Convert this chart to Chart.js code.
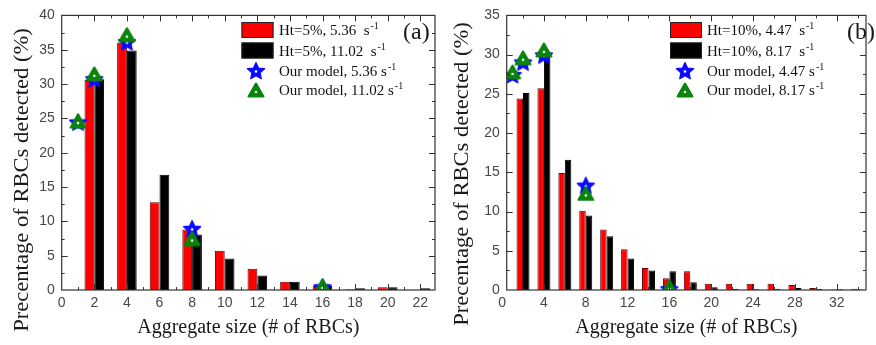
<!DOCTYPE html>
<html>
<head>
<meta charset="utf-8">
<script src="https://cdn.jsdelivr.net/npm/chart.js@4/dist/chart.umd.min.js"></script>
<style>
  html, body { margin: 0; padding: 0; background: #fff; overflow: hidden; }
  #wrapA { position: absolute; left: 0; top: 0; width: 445px; height: 345px; }
  #wrapB { position: absolute; left: 445px; top: 0; width: 431px; height: 345px; }
</style>
</head>
<body>
<div id="wrapA"><canvas id="chartA"></canvas></div>
<div id="wrapB"><canvas id="chartB"></canvas></div>
<script>
// ---------------- DATA ----------------
// Panel (a): Ht = 5%
const sizesA = [2, 4, 6, 8, 10, 12, 14, 16, 18, 20, 22];
const expA_536 = [30.6, 36.0, 12.8, 8.8, 5.7, 3.1, 1.2, 0.6, 0.1, 0.4, 0.05];
const expA_1102 = [30.7, 34.9, 16.8, 8.1, 4.6, 2.1, 1.2, 0.6, 0.25, 0.4, 0.25];
const modelSizesA = [1, 2, 4, 8, 16];
const modelA_536 = [24.4, 30.7, 36.1, 8.9, 0.4];
const modelA_1102 = [24.6, 31.5, 37.2, 7.5, 0.6];
const xTicksA = [0, 2, 4, 6, 8, 10, 12, 14, 16, 18, 20, 22];
const yTicksA = [0, 5, 10, 15, 20, 25, 30, 35, 40];

// Panel (b): Ht = 10%
const sizesB = [2, 4, 6, 8, 10, 12, 14, 16, 18, 20, 22, 24, 26, 28, 30, 32, 34];
const expB_447 = [24.4, 25.7, 14.9, 10.1, 7.7, 5.2, 2.8, 1.5, 2.4, 0.8, 0.8, 0.8, 0.8, 0.65, 0.25, 0.05, 0.15];
const expB_817 = [25.1, 29.8, 16.6, 9.5, 6.85, 4.0, 2.5, 2.4, 1.0, 0.35, 0.15, 0.1, 0.15, 0.25, 0.15, 0.1, 0.05];
const modelSizesB = [1, 2, 4, 8, 16];
const modelB_447 = [27.4, 29.0, 29.9, 13.3, 0.1];
const modelB_817 = [27.8, 29.6, 30.6, 12.3, 0.4];
const xTicksB = [0, 4, 8, 12, 16, 20, 24, 28, 32];
const yTicksB = [0, 5, 10, 15, 20, 25, 30, 35];

// Labels
const labelsA = ['Ht=5%, 5.36  s', 'Ht=5%, 11.02  s', 'Our model, 5.36 s', 'Our model, 11.02 s'];
const labelsB = ['Ht=10%, 4.47  s', 'Ht=10%, 8.17  s', 'Our model, 4.47 s', 'Our model, 8.17 s'];
const unitSup = '-1';
const xTitle = 'Aggregate size (# of RBCs)';
const yTitle = 'Precentage of RBCs detected (%)';
const panelTags = ['(a)', '(b)'];

// ---------------- STYLE ----------------
const SERIF = '"Liberation Serif", "Times New Roman", serif';
const SANS = '"Liberation Sans", Arial, sans-serif';
const RED = '#ff0000', BLACK = '#000000', BLUE = '#0a0aff', GREEN = '#0a840a';

function makeStar(color) {
  const c = document.createElement('canvas');
  c.width = 20; c.height = 20;
  const g = c.getContext('2d');
  g.beginPath();
  const cx = 10, cy = 10.5, ro = 9, ri = 4.3;
  for (let i = 0; i < 10; i++) {
    const r = i % 2 === 0 ? ro : ri;
    const a = -Math.PI / 2 + i * Math.PI / 5;
    const px = cx + r * Math.cos(a), py = cy + r * Math.sin(a);
    i === 0 ? g.moveTo(px, py) : g.lineTo(px, py);
  }
  g.closePath();
  g.fillStyle = color; g.fill();
  g.lineJoin = 'round'; g.strokeStyle = color; g.lineWidth = 1.2; g.stroke();
  g.fillStyle = '#fff';
  g.beginPath(); g.arc(cx, cy, 1.3, 0, Math.PI * 2); g.fill();
  return c;
}
function makeTri(color) {
  const c = document.createElement('canvas');
  c.width = 18; c.height = 16;
  const g = c.getContext('2d');
  g.beginPath();
  g.moveTo(9, 1.5); g.lineTo(16.5, 14.5); g.lineTo(1.5, 14.5); g.closePath();
  g.fillStyle = color; g.fill();
  g.lineJoin = 'round'; g.strokeStyle = color; g.lineWidth = 2; g.stroke();
  g.fillStyle = '#fff';
  g.beginPath(); g.arc(9, 10, 1.3, 0, Math.PI * 2); g.fill();
  return c;
}
const starImg = makeStar(BLUE);
const triImg = makeTri(GREEN);

// frame with inward major/minor ticks
const framePlugin = {
  id: 'frame',
  afterDatasetsDraw(chart, args, o) {
    const { ctx, chartArea: { left, right, top, bottom }, scales: { x, y } } = chart;
    ctx.save();
    ctx.strokeStyle = '#333';
    ctx.lineWidth = 1.2;
    ctx.strokeRect(left, top, right - left, bottom - top);
    ctx.lineWidth = 1;
    ctx.beginPath();
    for (let v = 0; v <= x.max + 1e-6; v += o.xMinor) {
      const px = Math.round(x.getPixelForValue(v)) + 0.5;
      if (px < left + 1 || px > right - 1) continue;
      const major = Math.abs(v / o.xMajor - Math.round(v / o.xMajor)) < 1e-6;
      const len = major ? 6 : 3;
      ctx.moveTo(px, bottom); ctx.lineTo(px, bottom - len);
      ctx.moveTo(px, top); ctx.lineTo(px, top + len);
    }
    for (let v = 0; v <= y.max + 1e-6; v += o.yMinor) {
      const py = Math.round(y.getPixelForValue(v)) + 0.5;
      if (py < top + 1 || py > bottom - 1) continue;
      const major = Math.abs(v / o.yMajor - Math.round(v / o.yMajor)) < 1e-6;
      const len = major ? 6 : 3;
      ctx.moveTo(left, py); ctx.lineTo(left + len, py);
      ctx.moveTo(right, py); ctx.lineTo(right - len, py);
    }
    ctx.stroke();
    ctx.restore();
  }
};

// legend, panel tag, rotated y title
const decorPlugin = {
  id: 'decor',
  afterDraw(chart, args, o) {
    const ctx = chart.ctx;
    ctx.save();
    // y title
    ctx.fillStyle = '#1a1a1a';
    ctx.font = '20px ' + SERIF;
    ctx.textAlign = 'center';
    ctx.textBaseline = 'middle';
    ctx.translate(o.yTitleX, o.yTitleY);
    ctx.rotate(-Math.PI / 2);
    ctx.scale(1.13, 1);
    ctx.fillText(yTitle, 0, 0);
    ctx.restore();

    ctx.save();
    // panel tag
    ctx.fillStyle = '#1a1a1a';
    ctx.font = '24px ' + SERIF;
    ctx.textAlign = 'left';
    ctx.textBaseline = 'middle';
    ctx.fillText(o.tag, o.tagX, 33);
    // legend
    const rows = [30, 50.5, 71, 90];
    const ds = chart.data.datasets;
    const order = [0, 1, 2, 3];
    order.forEach((i, r) => {
      const d = ds[i];
      const cy = rows[r];
      if (d.type === 'bar' || !d.type) {
        ctx.fillStyle = d.backgroundColor;
        ctx.fillRect(o.boxX, cy - 8, 32, 16);
        ctx.strokeStyle = '#222';
        ctx.lineWidth = 1;
        ctx.strokeRect(o.boxX + 0.5, cy - 7.5, 31, 15);
      } else {
        const img = d.pointStyle;
        ctx.drawImage(img, o.symX - img.width / 2, cy - img.height / 2);
      }
      ctx.fillStyle = '#111';
      ctx.font = '15px ' + SERIF;
      ctx.textAlign = 'left';
      ctx.textBaseline = 'alphabetic';
      ctx.fillText(d.label, o.textX, cy + 5);
      const w = ctx.measureText(d.label).width;
      ctx.font = '10px ' + SERIF;
      ctx.fillText(unitSup, o.textX + w + 1, cy - 1);
    });
    ctx.restore();
  }
};

function fixedTicks(list) {
  return function (scale) { scale.ticks = list.map(v => ({ value: v })); };
}

function makeChart(id, cfg) {
  const datasets = [
    { type: 'bar', label: cfg.labels[0], data: cfg.sizes.map((s, i) => ({ x: s, y: cfg.red[i] })),
      backgroundColor: RED, borderColor: '#6a0000', borderWidth: 1, order: 3,
      categoryPercentage: cfg.catPct, barPercentage: 1.0 },
    { type: 'bar', label: cfg.labels[1], data: cfg.sizes.map((s, i) => ({ x: s, y: cfg.black[i] })),
      backgroundColor: BLACK, borderColor: '#000', borderWidth: 1, order: 3,
      categoryPercentage: cfg.catPct, barPercentage: 1.0 },
    { type: 'line', label: cfg.labels[2], data: cfg.mSizes.map((s, i) => ({ x: s, y: cfg.m1[i] })),
      showLine: false, pointStyle: starImg, pointRadius: 9, order: 2 },
    { type: 'line', label: cfg.labels[3], data: cfg.mSizes.map((s, i) => ({ x: s, y: cfg.m2[i] })),
      showLine: false, pointStyle: triImg, pointRadius: 9, order: 1 }
  ];
  return new Chart(document.getElementById(id), {
    type: 'bar',
    data: { datasets },
    options: {
      responsive: true,
      maintainAspectRatio: false,
      animation: false,
      events: [],
      layout: { padding: { top: 14, right: cfg.padRight, bottom: 0, left: 0 } },
      plugins: {
        legend: { display: false },
        tooltip: { enabled: false },
        frame: cfg.frame,
        decor: cfg.decor
      },
      scales: {
        x: {
          type: 'linear',
          min: cfg.xMin, max: cfg.xMax,
          offset: false,
          afterBuildTicks: fixedTicks(cfg.xTicks),
          afterFit: s => { s.height = 55; },
          grid: { display: false, drawTicks: false },
          border: { display: false },
          ticks: { font: { family: SANS, size: 14 }, color: '#474747', padding: 5, maxRotation: 0, autoSkip: false },
          title: { display: true, text: xTitle, font: { family: SERIF, size: 20 }, color: '#1a1a1a',
                   padding: { top: 0, bottom: 5 } }
        },
        y: {
          type: 'linear',
          min: 0, max: cfg.yMax,
          afterBuildTicks: fixedTicks(cfg.yTicks),
          afterFit: s => { s.width = 61.7; },
          grid: { display: false, drawTicks: false },
          border: { display: false },
          ticks: { font: { family: SANS, size: 14 }, color: '#474747', padding: 7, autoSkip: false }
        }
      }
    },
    plugins: [framePlugin, decorPlugin]
  });
}

makeChart('chartA', {
  labels: labelsA, sizes: sizesA, red: expA_536, black: expA_1102,
  mSizes: modelSizesA, m1: modelA_536, m2: modelA_1102,
  xMin: 0, xMax: 22.9, yMax: 40, xTicks: xTicksA, yTicks: yTicksA,
  catPct: 0.6, padRight: 7.3,
  frame: { xMajor: 2, xMinor: 1, yMajor: 5, yMinor: 2.5 },
  decor: { yTitleX: 23, yTitleY: 180, tag: panelTags[0], tagX: 403, boxX: 241.5, symX: 256, textX: 279 }
});
makeChart('chartB', {
  labels: labelsB, sizes: sizesB, red: expB_447, black: expB_817,
  mSizes: modelSizesB, m1: modelB_447, m2: modelB_817,
  xMin: 0.44, xMax: 34.8, yMax: 35, xTicks: xTicksB, yTicks: yTicksB,
  catPct: 0.62, padRight: 0,
  frame: { xMajor: 4, xMinor: 2, yMajor: 5, yMinor: 2.5 },
  decor: { yTitleX: 18, yTitleY: 174, tag: panelTags[1], tagX: 402, boxX: 225, symX: 240, textX: 262 }
});
</script>
</body>
</html>
